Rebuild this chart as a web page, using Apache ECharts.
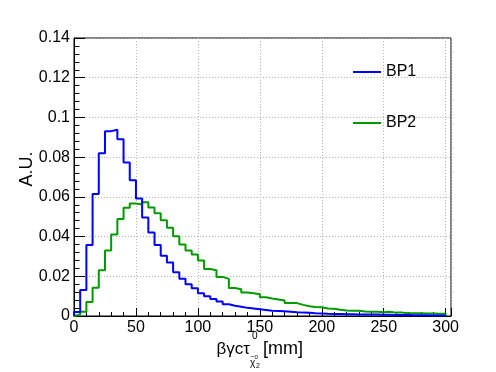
<!DOCTYPE html>
<html>
<head>
<meta charset="utf-8">
<script src="https://cdn.jsdelivr.net/npm/echarts@6/dist/echarts.min.js"></script>
<style>html,body{margin:0;padding:0;background:#fff;}#c{width:496px;height:372px;}</style>
</head>
<body>
<div id="c"></div>
<script>
// bin edges (mm)
const binEdges = [0,5,10,15,20,25,30,35,40,45,50,55,60,65,70,75,80,85,90,95,
  100,105,110,115,120,125,130,135,140,145,150,155,160,165,170,175,180,185,190,195,
  200,205,210,215,220,225,230,235,240,245,250,255,260,265,270,275,280,285,290,295,300];
const xTickValues = [0, 50, 100, 150, 200, 250, 300];
const seriesNames = ['BP1', 'BP2'];
const bp1 = [0.002,0.0131,0.0358,0.0615,0.082,0.0931,0.0938,0.089,0.0773,0.0684,
  0.0592,0.0496,0.042,0.0358,0.0304,0.027,0.022,0.0187,0.016,0.014,
  0.0114,0.0099,0.0086,0.0073,0.0059,0.0052,0.0047,0.0041,0.0038,0.0034,
  0.003,0.0026,0.0025,0.0024,0.0022,0.0019,0.0017,0.0016,0.0014,0.0013,
  0.0011,0.001,0.001,0.0009,0.0009,0.0008,0.0008,0.0007,0.0007,0.0006,
  0.0006,0.0005,0.0005,0.0005,0.0004,0.0004,0.0004,0.0003,0.0003,0.0003];
const bp2 = [0.0008,0.0022,0.007,0.0142,0.023,0.033,0.041,0.0488,0.0545,0.0566,
  0.0562,0.0573,0.0546,0.0517,0.0482,0.0444,0.0402,0.036,0.033,0.031,
  0.0279,0.0237,0.023,0.0197,0.0187,0.0141,0.0135,0.0118,0.0114,0.011,
  0.0094,0.0088,0.0083,0.0078,0.0066,0.0065,0.0056,0.0049,0.0045,0.0044,
  0.0038,0.0037,0.0032,0.0028,0.0027,0.0027,0.0023,0.0022,0.0022,0.0019,
  0.0021,0.0017,0.0017,0.0014,0.0014,0.0014,0.0013,0.0013,0.0011,0.0011];

function histPoints(vals) {
  const pts = [[binEdges[0], 0]];
  for (let k = 0; k < vals.length; k++) pts.push([binEdges[k], vals[k]]);
  const last = binEdges[vals.length];
  pts.push([last, vals[vals.length - 1]]);
  pts.push([last, 0]);
  return pts;
}

const FONT = '"Liberation Sans", Arial, Helvetica, sans-serif';
const chart = echarts.init(document.getElementById('c'), null, {renderer: 'canvas'});
const gridLine = {show: true, lineStyle: {color: '#b4b4b4', width: 1, type: [1, 2]}};
function txt(x, y, s, size, align) {
  return {type: 'text', x: x, y: y, z: 100, style: {text: s, font: size + 'px ' + FONT, fill: '#000', align: align || 'left', verticalAlign: 'middle'}};
}
chart.setOption({
  animation: false,
  backgroundColor: '#fff',
  grid: {left: 74, top: 38, width: 377, height: 278, show: true, borderColor: '#000', borderWidth: 1, backgroundColor: 'transparent'},
  legend: {
    data: seriesNames, orient: 'vertical', left: 353, top: 64, padding: 0,
    icon: 'rect', itemWidth: 28, itemHeight: 2, itemGap: 35,
    textStyle: {fontFamily: FONT, fontSize: 16, color: '#000'}
  },
  xAxis: {
    type: 'value', min: 0, max: 304.3, interval: 50,
    axisLine: {show: true, onZero: false, lineStyle: {color: '#000', width: 1}},
    axisTick: {show: true, inside: true, length: 8, lineStyle: {color: '#000'}},
    minorTick: {show: true, splitNumber: 5, length: 4, lineStyle: {color: '#000'}},
    splitLine: gridLine,
    axisLabel: {fontFamily: FONT, fontSize: 16, color: '#000', margin: 4, showMaxLabel: true,
      customValues: xTickValues},
  },
  yAxis: {
    type: 'value', min: 0, max: 0.14, interval: 0.02,
    axisLine: {show: true, lineStyle: {color: '#000', width: 1}},
    axisTick: {show: true, inside: true, length: 11, lineStyle: {color: '#000'}},
    minorTick: {show: true, splitNumber: 5, length: 5.5, lineStyle: {color: '#000'}},
    splitLine: gridLine,
    axisLabel: {fontFamily: FONT, fontSize: 16, color: '#000', margin: 4}
  },
  graphic: [
    {type: 'text', x: 27, y: 169, rotation: Math.PI / 2, style: {text: 'A.U.', font: '18px ' + FONT, fill: '#000', align: 'center', verticalAlign: 'middle'}},
    txt(216.5, 349, 'βγcτ', 17),
    txt(252, 336, '0', 10),
    txt(250, 363.5, 'χ', 10),
    txt(250.5, 357.5, '~', 7),
    txt(254.5, 357, '0', 6),
    txt(256, 366, '2', 7),
    txt(263, 349, '[mm]', 18)
  ],
  series: [
    {name: seriesNames[0], type: 'line', step: 'end', symbol: 'none', data: histPoints(bp1),
      color: '#0000ff', lineStyle: {color: '#0000ff', width: 2}, z: 3},
    {name: seriesNames[1], type: 'line', step: 'end', symbol: 'none', data: histPoints(bp2),
      color: '#009900', lineStyle: {color: '#009900', width: 2}, z: 2}
  ]
});
</script>
</body>
</html>
